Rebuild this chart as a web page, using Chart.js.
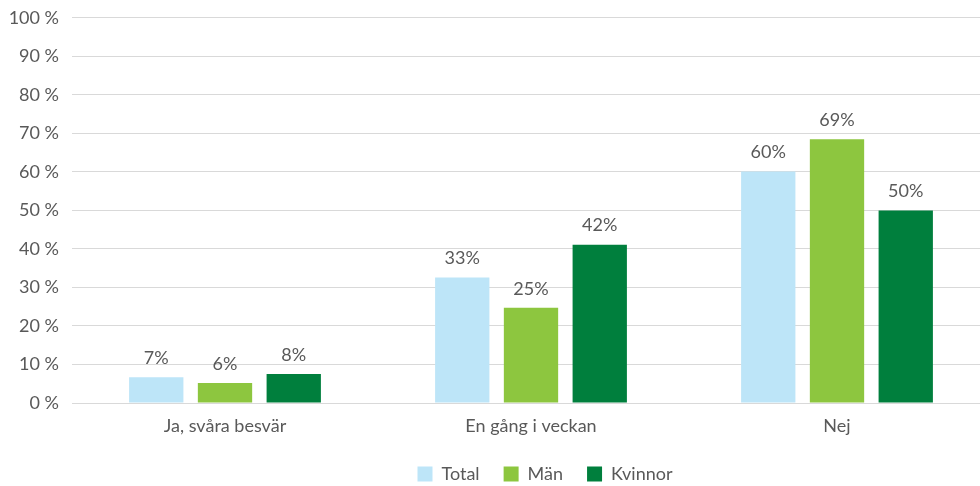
<!DOCTYPE html>
<html>
<head>
<meta charset="utf-8">
<script src="https://cdn.jsdelivr.net/npm/chart.js@4.4.1/dist/chart.umd.min.js"></script>
<style>
    html, body { margin: 0; padding: 0; background: #fff; }
    #wrap { width: 980px; height: 486px; overflow: hidden; position: relative; }
    #chart { position: absolute; left: 0; top: -6px; }
</style>
</head>
<body>
<div id="wrap"><canvas id="chart" width="990" height="492"></canvas></div>
<script>
// Data
const categories = ["Ja, svåra besvär", "En gång i veckan", "Nej"];
const totalValues = [6.7, 32.6, 60.1];
const manValues = [5.2, 24.7, 68.5];
const kvinnorValues = [7.5, 41.1, 50.0];
// labels as printed above the bars
const totalLabels = ["7%", "33%", "60%"];
const manLabels = ["6%", "25%", "69%"];
const kvinnorLabels = ["8%", "42%", "50%"];
const yTicks = [0, 10, 20, 30, 40, 50, 60, 70, 80, 90, 100];

const textColor = '#595959';
const fontFamily = 'Lato, "Open Sans", sans-serif';

// Bar value labels, plus nudge the legend and let x labels overflow their box
const barLabels = {
    id: 'barLabels',
    afterLayout(chart) {
        const lg = chart.legend;
        lg.left += 50;
        lg.right += 50;
        lg.top += 7;
        lg.bottom += 7;
        chart.scales.x.bottom += 40;
    },
    afterDatasetsDraw(chart) {
        const ctx = chart.ctx;
        ctx.save();
        ctx.font = '18px ' + fontFamily;
        ctx.fillStyle = textColor;
        ctx.textAlign = 'center';
        ctx.textBaseline = 'middle';
        chart.data.datasets.forEach((ds, i) => {
            chart.getDatasetMeta(i).data.forEach((bar, j) => {
                ctx.fillText(ds.valueLabels[j], bar.x, bar.y - 19);
            });
        });
        ctx.restore();
    }
};

new Chart(document.getElementById('chart').getContext('2d'), {
    type: 'bar',
    data: {
        labels: categories,
        datasets: [
            { label: 'Total', data: totalValues, valueLabels: totalLabels, backgroundColor: '#BDE5F8' },
            { label: 'Män', data: manValues, valueLabels: manLabels, backgroundColor: '#8DC63F' },
            { label: 'Kvinnor', data: kvinnorValues, valueLabels: kvinnorLabels, backgroundColor: '#007F3D' },
        ],
    },
    options: {
        responsive: false,
        animation: false,
        events: [],
        layout: { padding: { top: 6, right: 0, left: 0, bottom: 0 } },
        datasets: {
            bar: { categoryPercentage: 0.674, barPercentage: 0.79 }
        },
        scales: {
            x: {
                grid: { display: false },
                border: { display: false },
                ticks: { color: textColor, font: { family: fontFamily, size: 18 }, padding: 4 },
                afterFit: scale => { scale.height = 31; },
            },
            y: {
                min: 0,
                max: 100,
                afterBuildTicks: scale => { scale.ticks = yTicks.map(v => ({ value: v })); },
                afterFit: scale => { scale.width = 72; },
                grid: { color: '#D9D9D9', lineWidth: 1, drawTicks: false },
                border: { display: false },
                ticks: {
                    color: textColor,
                    font: { family: fontFamily, size: 18 },
                    padding: 13,
                    callback: v => v + ' %',
                },
            },
        },
        plugins: {
            tooltip: { enabled: false },
            legend: {
                position: 'bottom',
                labels: {
                    color: textColor,
                    font: { family: fontFamily, size: 18 },
                    boxWidth: 15,
                    boxHeight: 15,
                    padding: 24,
                },
            },
        },
    },
    plugins: [barLabels],
});
</script>
</body>
</html>
